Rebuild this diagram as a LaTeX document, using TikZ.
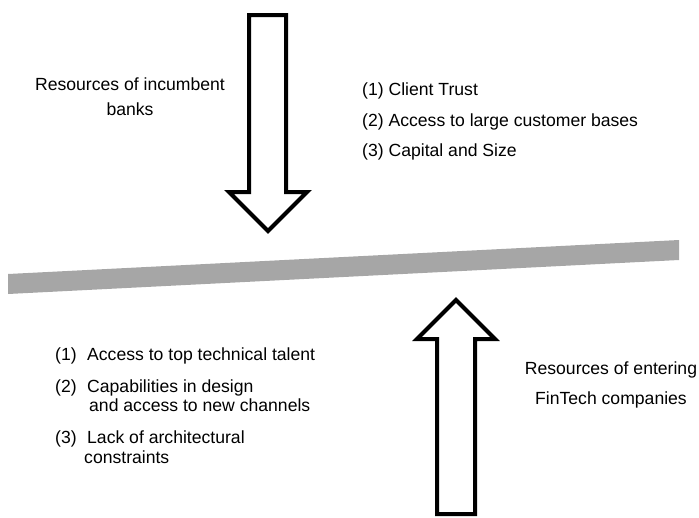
\documentclass[tikz,border=0pt]{standalone}
\usepackage{fontspec}
\setmainfont{Liberation Sans}
\definecolor{bargray}{HTML}{A6A6A6}
\tikzset{
  txt/.style={anchor=base west, inner sep=0pt, font=\fontsize{17.6}{21}\selectfont},
  ctxt/.style={anchor=base, inner sep=0pt, font=\fontsize{17.6}{21}\selectfont},
  fatarrow/.style={draw=black, fill=white, line width=4pt, line join=miter},
  bar/.style={fill=bargray, draw=none}
}
\begin{document}
\begin{tikzpicture}[x=1pt, y=-1pt]
\useasboundingbox (0,0) rectangle (699,517);
% balance bar
\fill[bar] (8,274) -- (679,240) -- (679,260) -- (8,294) -- cycle;
% down arrow (incumbent banks)
\draw[fatarrow] (249,15) -- (286,15) -- (286,192) -- (307,192) -- (268,231) -- (229,192) -- (249,192) -- cycle;
% up arrow (FinTech)
\draw[fatarrow] (437,514) -- (437,339) -- (417,339) -- (456,300) -- (495,339) -- (475,339) -- (475,514) -- cycle;
% titles
\node[ctxt] (inc1) at (130,90) {Resources of incumbent};
\node[ctxt] (inc2) at (130,115) {banks};
\node[ctxt] (fin1) at (611,374) {Resources of entering};
\node[ctxt] (fin2) at (611,404) {FinTech companies};
% incumbent list
\node[txt] (r1) at (362,95.5) {(1) Client Trust};
\node[txt] (r2) at (362,126) {(2) Access to large customer bases};
\node[txt] (r3) at (362,156.5) {(3) Capital and Size};
% fintech list
\node[txt] (n1) at (55,360) {(1)};
\node[txt] (l1) at (87,360) {Access to top technical talent};
\node[txt] (n2) at (55,392) {(2)};
\node[txt] (l2) at (87,392) {Capabilities in design};
\node[txt] (l2b) at (89,411) {and access to new channels};
\node[txt] (n3) at (55,443) {(3)};
\node[txt] (l3) at (87,443) {Lack of architectural};
\node[txt] (l3b) at (84,463) {constraints};
\end{tikzpicture}
\end{document}
